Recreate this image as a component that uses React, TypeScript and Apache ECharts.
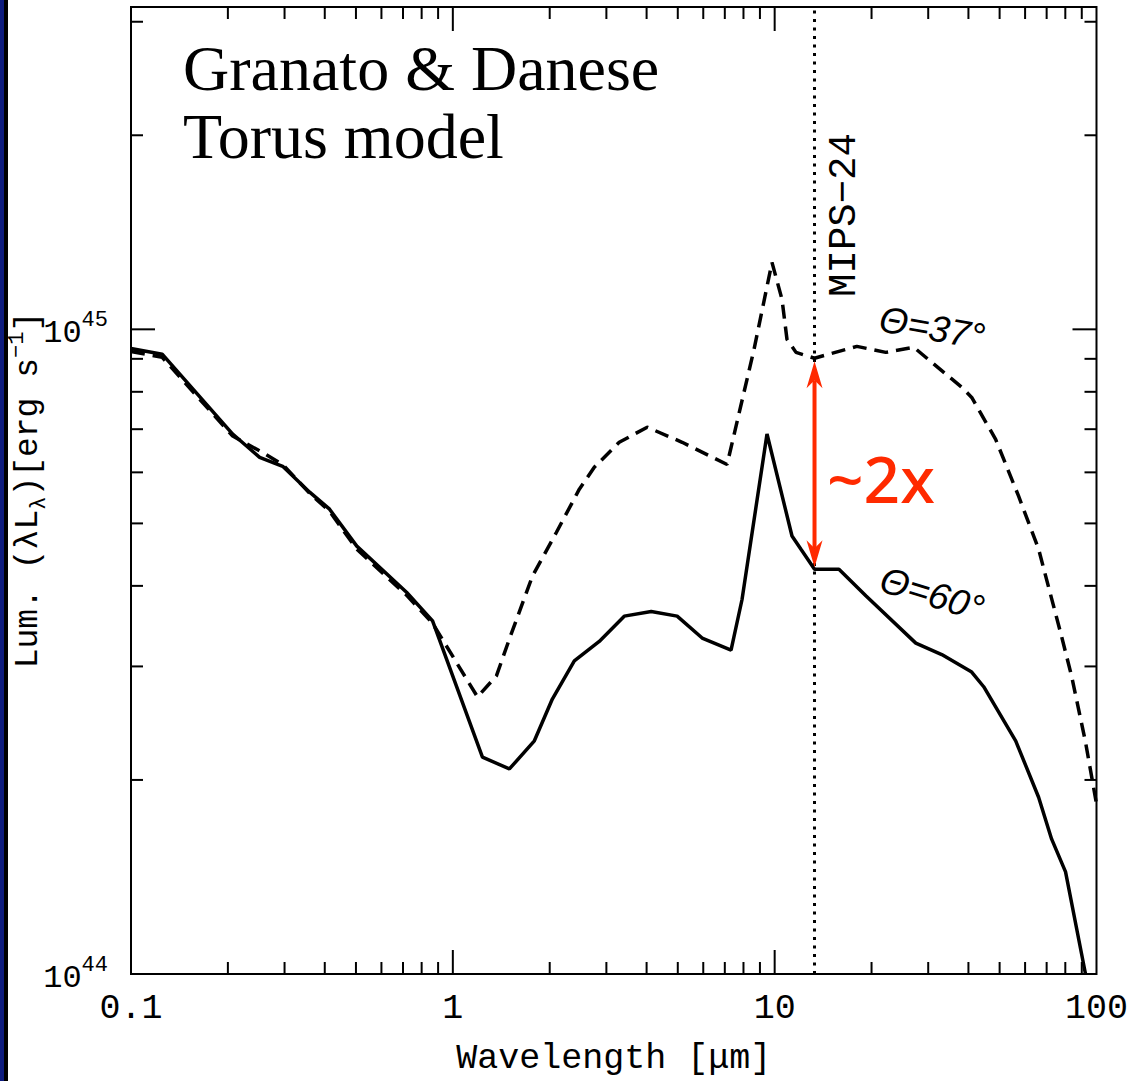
import React, { useEffect, useRef } from 'react';
import * as echarts from 'echarts';

// Wavelength in micron, luminance in units of 1e45 erg/s
const solidWavelength = [0.1, 0.125, 0.207, 0.251, 0.296, 0.359, 0.414, 0.503, 0.718, 0.865, 1.236, 1.499, 1.792, 2.038, 2.385, 2.851, 3.409, 4.135, 4.977, 5.952, 7.32, 7.918, 9.467, 11.32, 12.1, 13.3, 15.84, 19.2, 27.45, 33.05, 40.95, 44.62, 56.09, 66.09, 72.51, 80.14, 92.44];
const solidLum = [0.934, 0.915, 0.688, 0.633, 0.613, 0.559, 0.526, 0.461, 0.391, 0.353, 0.217, 0.208, 0.23, 0.267, 0.306, 0.328, 0.359, 0.365, 0.359, 0.332, 0.318, 0.381, 0.688, 0.478, 0.455, 0.4245, 0.4245, 0.386, 0.326, 0.313, 0.294, 0.279, 0.23, 0.188, 0.162, 0.144, 0.1];

const dashedWavelength = [0.1, 0.125, 0.207, 0.255, 0.296, 0.359, 0.414, 0.503, 0.718, 0.865, 1.193, 1.366, 1.499, 1.767, 2.097, 2.472, 2.751, 3.289, 4.018, 5.159, 7.114, 8.628, 9.81, 10.54, 10.92, 11.65, 13.3, 18.01, 22.15, 27.06, 30.76, 38.13, 40.95, 48.61, 57.28, 66.09, 77.88, 83.66, 92.44, 100];
const dashedLum = [0.924, 0.905, 0.683, 0.645, 0.617, 0.557, 0.522, 0.456, 0.387, 0.35, 0.269, 0.29, 0.331, 0.414, 0.484, 0.565, 0.611, 0.668, 0.705, 0.668, 0.617, 0.931, 1.27, 1.113, 0.965, 0.921, 0.902, 0.941, 0.921, 0.938, 0.889, 0.813, 0.784, 0.675, 0.551, 0.456, 0.334, 0.29, 0.229, 0.1835];

const MIPS_WAVELENGTH = 13.3;

const xMajorTicks = [1, 10];
const xMinorTicks = [0.2, 0.3, 0.4, 0.5, 0.6, 0.7, 0.8, 0.9, 2, 3, 4, 5, 6, 7, 8, 9, 20, 30, 40, 50, 60, 70, 80, 90];
const yMajorTicks = [1];
const yMinorTicks = [0.2, 0.3, 0.4, 0.5, 0.6, 0.7, 0.8, 0.9, 2, 3];

const X_MIN = 0.1;
const X_MAX = 100;
const Y_MIN = 0.1;
const Y_MAX = Math.pow(10, 0.5);

const MONO = '"Liberation Mono", "DejaVu Sans Mono", monospace';
const SERIF = '"Liberation Serif", "DejaVu Serif", serif';

export default function App() {
  const ref = useRef<HTMLDivElement>(null);

  useEffect(() => {
    document.body.style.margin = '0';
    const el = ref.current!;
    const chart = echarts.init(el, null, { renderer: 'svg' });

    const xTickData = [
      ...xMajorTicks.map((v) => [v, Y_MIN, 1]),
      ...xMinorTicks.map((v) => [v, Y_MIN, 0]),
    ];
    const yTickData = [
      ...yMajorTicks.map((v) => [X_MIN, v, 1]),
      ...yMinorTicks.map((v) => [X_MIN, v, 0]),
    ];

    const option: any = {
      animation: false,
      backgroundColor: '#ffffff',
      grid: {
        left: 131,
        top: 7,
        width: 967,
        height: 968,
        show: true,
        borderColor: '#000',
        borderWidth: 2,
        backgroundColor: 'transparent',
      },
      xAxis: {
        type: 'log',
        logBase: 10,
        min: X_MIN,
        max: X_MAX,
        axisLine: { show: false },
        axisTick: { show: false },
        splitLine: { show: false },
        minorTick: { show: false },
        axisLabel: {
          color: '#000',
          fontFamily: MONO,
          fontSize: 35,
          margin: 17,
          formatter: (v: number) => String(Number(v.toPrecision(6))),
        },
        name: 'Wavelength [μm]',
        nameLocation: 'middle',
        nameGap: 67,
        nameTextStyle: { color: '#000', fontFamily: MONO, fontSize: 35 },
      },
      yAxis: {
        type: 'log',
        logBase: 10,
        min: Y_MIN,
        max: Y_MAX,
        axisLine: { show: false },
        axisTick: { show: false },
        splitLine: { show: false },
        minorTick: { show: false },
        axisLabel: {
          color: '#000',
          margin: 23,
          formatter: (v: number) => {
            const l = Math.log10(v);
            if (Math.abs(l - Math.round(l)) > 1e-6) return '';
            return '{b|10}{s|' + (Math.round(l) + 45) + '}';
          },
          rich: {
            b: { fontFamily: MONO, fontSize: 32, color: '#000', lineHeight: 40, verticalAlign: 'bottom' },
            s: { fontFamily: MONO, fontSize: 22, color: '#000', lineHeight: 40, verticalAlign: 'top' },
          },
        },
      },
      series: [
        {
          type: 'line',
          name: 'theta60',
          data: solidWavelength.map((w, i) => [w, solidLum[i]]),
          showSymbol: false,
          symbol: 'none',
          clip: true,
          lineStyle: { color: '#000', width: 3.5, type: 'solid' },
          markLine: {
            silent: true,
            symbol: 'none',
            label: { show: false },
            lineStyle: { color: '#000', width: 3, type: [3, 5.5] },
            data: [{ xAxis: MIPS_WAVELENGTH }],
          },
          z: 3,
        },
        {
          type: 'line',
          name: 'theta37',
          data: dashedWavelength.map((w, i) => [w, dashedLum[i]]),
          showSymbol: false,
          symbol: 'none',
          clip: true,
          lineStyle: { color: '#000', width: 3.5, type: [14, 8] },
          z: 3,
        },
        {
          type: 'custom',
          name: 'xticks',
          data: xTickData,
          encode: { x: 0, y: 1 },
          silent: true,
          clip: false,
          renderItem: (params: any, api: any) => {
            const cs = params.coordSys;
            const px = api.coord([api.value(0), Y_MIN])[0];
            const len = api.value(2) ? 24 : 12;
            const bottom = cs.y + cs.height;
            return {
              type: 'group',
              children: [
                { type: 'line', shape: { x1: px, y1: bottom, x2: px, y2: bottom - len }, style: { stroke: '#000', lineWidth: 2 } },
                { type: 'line', shape: { x1: px, y1: cs.y, x2: px, y2: cs.y + len }, style: { stroke: '#000', lineWidth: 2 } },
              ],
            };
          },
        },
        {
          type: 'custom',
          name: 'yticks',
          data: yTickData,
          encode: { x: 0, y: 1 },
          silent: true,
          clip: false,
          renderItem: (params: any, api: any) => {
            const cs = params.coordSys;
            const py = api.coord([X_MIN, api.value(1)])[1];
            const len = api.value(2) ? 24 : 12;
            const right = cs.x + cs.width;
            return {
              type: 'group',
              children: [
                { type: 'line', shape: { x1: cs.x, y1: py, x2: cs.x + len, y2: py }, style: { stroke: '#000', lineWidth: 2 } },
                { type: 'line', shape: { x1: right, y1: py, x2: right - len, y2: py }, style: { stroke: '#000', lineWidth: 2 } },
              ],
            };
          },
        },
      ],
    };

    chart.setOption(option);

    const iTop = dashedWavelength.indexOf(MIPS_WAVELENGTH);
    const iBot = solidWavelength.indexOf(MIPS_WAVELENGTH);
    const pTop = chart.convertToPixel({ gridIndex: 0 }, [MIPS_WAVELENGTH, dashedLum[iTop]]) as number[];
    const pBot = chart.convertToPixel({ gridIndex: 0 }, [MIPS_WAVELENGTH, solidLum[iBot]]) as number[];
    const ax = pTop[0];
    const yTop = pTop[1] + 3;
    const yBot = pBot[1] - 2;
    const headLen = 27;
    const headHalf = 8;
    const notch = 19;
    const red = '#ff2a00';

    chart.setOption({
      graphic: [
        { type: 'rect', shape: { x: 0, y: 0, width: 4, height: 1081 }, style: { fill: '#0e1c7e' }, z: 10 },
        { type: 'rect', shape: { x: 4, y: 0, width: 4, height: 1081 }, style: { fill: '#000' }, z: 10 },
        {
          type: 'text', x: 183, y: 68, z: 10,
          style: { text: 'Granato & Danese', fontFamily: SERIF, fontSize: 64, fill: '#000', align: 'left', verticalAlign: 'middle' },
        },
        {
          type: 'text', x: 183, y: 136, z: 10,
          style: { text: 'Torus model', fontFamily: SERIF, fontSize: 64, fill: '#000', align: 'left', verticalAlign: 'middle' },
        },
        {
          type: 'text', x: 845, y: 215, rotation: Math.PI / 2, z: 10,
          style: { text: 'MIPS−24', fontFamily: MONO, fontSize: 39, fill: '#000', align: 'center', verticalAlign: 'middle' },
        },
        {
          type: 'text', x: 932, y: 328, rotation: (-10 * Math.PI) / 180, z: 10,
          style: { text: 'Θ=37°', fontFamily: '"Liberation Sans", sans-serif', fontStyle: 'italic', fontSize: 37, fill: '#000', align: 'center', verticalAlign: 'middle' },
        },
        {
          type: 'text', x: 932, y: 594, rotation: (-17 * Math.PI) / 180, z: 10,
          style: { text: 'Θ=60°', fontFamily: '"Liberation Sans", sans-serif', fontStyle: 'italic', fontSize: 37, fill: '#000', align: 'center', verticalAlign: 'middle' },
        },
        {
          type: 'text', x: 28, y: 490, rotation: Math.PI / 2, z: 10,
          style: {
            text: '{a|Lum. (λL}{sub|λ}{a|)[erg s}{sup|−1}{a|]}',
            align: 'center',
            verticalAlign: 'middle',
            rich: {
              a: { fontFamily: MONO, fontSize: 33, fill: '#000', lineHeight: 44, verticalAlign: 'middle' },
              sub: { fontFamily: MONO, fontSize: 22, fill: '#000', lineHeight: 44, verticalAlign: 'bottom' },
              sup: { fontFamily: MONO, fontSize: 22, fill: '#000', lineHeight: 44, verticalAlign: 'top' },
            },
          },
        },
        // arrow shaft
        {
          type: 'line', z: 11,
          shape: { x1: ax, y1: yTop + notch, x2: ax, y2: yBot - notch },
          style: { stroke: red, lineWidth: 4 },
        },
        {
          type: 'polygon', z: 11,
          shape: { points: [[ax, yTop], [ax - headHalf, yTop + headLen], [ax, yTop + notch], [ax + headHalf, yTop + headLen]] },
          style: { fill: red },
        },
        {
          type: 'polygon', z: 11,
          shape: { points: [[ax, yBot], [ax - headHalf, yBot - headLen], [ax, yBot - notch], [ax + headHalf, yBot - headLen]] },
          style: { fill: red },
        },
        {
          type: 'text', x: 881, y: 478, z: 11,
          style: { text: '~2x', fontFamily: '"Noto Sans", sans-serif', fontWeight: 500, fontSize: 64, fill: red, align: 'center', verticalAlign: 'middle' },
        },
      ],
    });

    return () => {
      chart.dispose();
    };
  }, []);

  return <div ref={ref} style={{ width: 1131, height: 1081 }} />;
}
